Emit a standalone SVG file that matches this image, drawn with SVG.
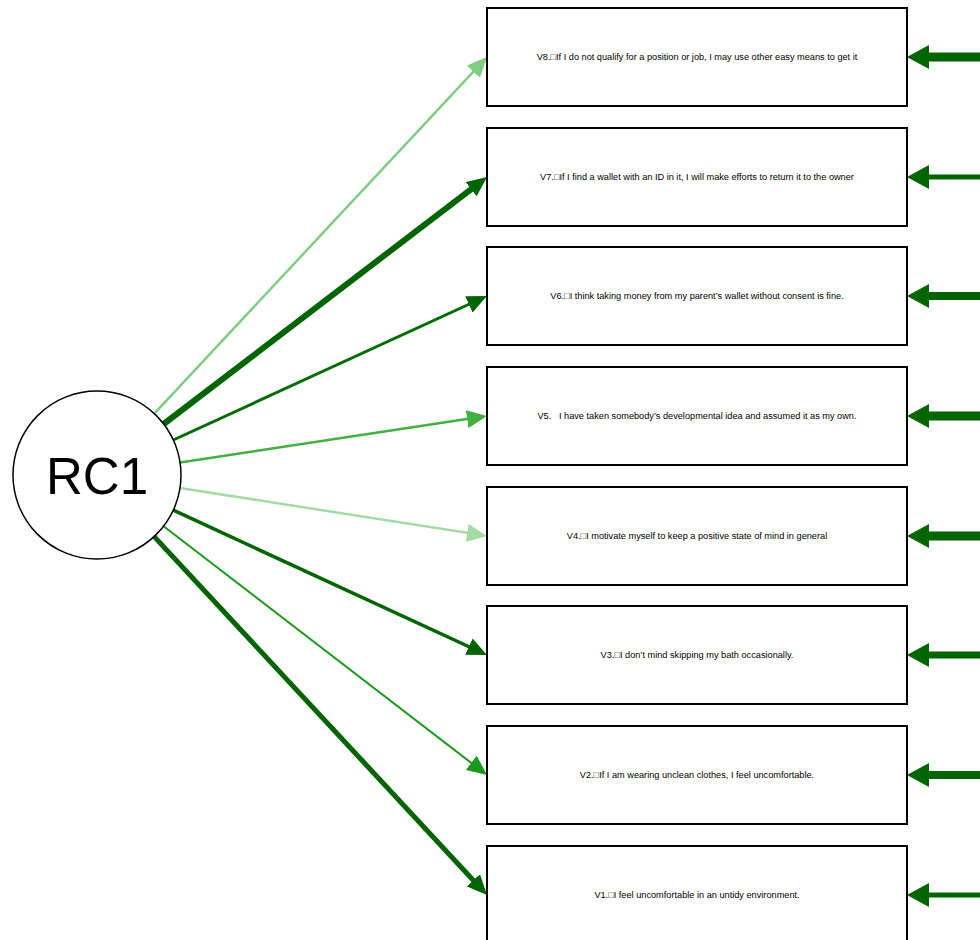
<svg xmlns="http://www.w3.org/2000/svg" width="980" height="940" viewBox="0 0 980 940">
<style>
.box{fill:#fff;stroke:#000;stroke-width:2}
.lbl{font-family:"Liberation Sans",Arial,sans-serif;font-size:9.2px;fill:#000;text-anchor:middle}
.lat{fill:#fff;stroke:#000;stroke-width:1.5}
.latlbl{font-family:"Liberation Sans",Arial,sans-serif;font-size:51px;fill:#000;text-anchor:middle}
.res{stroke:#006400;fill:none}
</style>
<defs>
<marker id="aDark" markerUnits="userSpaceOnUse" markerWidth="20" markerHeight="18" refX="8" refY="9" orient="auto"><path d="M0,0 L20,9 L0,18 z" fill="#006400"/></marker>
<marker id="aLight" markerUnits="userSpaceOnUse" markerWidth="20" markerHeight="18" refX="8" refY="9" orient="auto"><path d="M0,0 L20,9 L0,18 z" fill="#80cc80"/></marker>
<marker id="aPale" markerUnits="userSpaceOnUse" markerWidth="20" markerHeight="18" refX="8" refY="9" orient="auto"><path d="M0,0 L20,9 L0,18 z" fill="#a3dba3"/></marker>
<marker id="aMid" markerUnits="userSpaceOnUse" markerWidth="20" markerHeight="18" refX="8" refY="9" orient="auto"><path d="M0,0 L20,9 L0,18 z" fill="#40b040"/></marker>
<marker id="aMid2" markerUnits="userSpaceOnUse" markerWidth="20" markerHeight="18" refX="8" refY="9" orient="auto"><path d="M0,0 L20,9 L0,18 z" fill="#1a9a1a"/></marker>
<marker id="aRes" markerUnits="userSpaceOnUse" markerWidth="22" markerHeight="24" refX="10" refY="12" orient="auto"><path d="M0,0 L22,12 L0,24 z" fill="#006400"/></marker>
</defs>

<g id="connectors">
<line x1="154.3" y1="413.6" x2="478.8" y2="65.8" stroke="#80cc80" stroke-width="2.5" marker-end="url(#aLight)"/>
<line x1="163.7" y1="424" x2="477.5" y2="184.3" stroke="#006400" stroke-width="6" marker-end="url(#aDark)"/>
<line x1="173.3" y1="440" x2="476.1" y2="301" stroke="#006b00" stroke-width="3" marker-end="url(#aDark)"/>
<line x1="180.1" y1="462.4" x2="475.1" y2="417.8" stroke="#40b040" stroke-width="2.5" marker-end="url(#aMid)"/>
<line x1="180" y1="488" x2="475.1" y2="534.1" stroke="#a3dba3" stroke-width="2.5" marker-end="url(#aPale)"/>
<line x1="173.3" y1="510.2" x2="476.1" y2="650" stroke="#006400" stroke-width="3.5" marker-end="url(#aDark)"/>
<line x1="163.6" y1="526.2" x2="477.5" y2="767.7" stroke="#1a9a1a" stroke-width="2" marker-end="url(#aMid2)"/>
<line x1="154.2" y1="536.6" x2="478.8" y2="886.2" stroke="#006400" stroke-width="5" marker-end="url(#aDark)"/>

<line class="res" x1="980" y1="57" x2="919" y2="57" stroke-width="9" marker-end="url(#aRes)"/>
<line class="res" x1="980" y1="177" x2="919" y2="177" stroke-width="5" marker-end="url(#aRes)"/>
<line class="res" x1="980" y1="296" x2="919" y2="296" stroke-width="8" marker-end="url(#aRes)"/>
<line class="res" x1="980" y1="416" x2="919" y2="416" stroke-width="9" marker-end="url(#aRes)"/>
<line class="res" x1="980" y1="536" x2="919" y2="536" stroke-width="9" marker-end="url(#aRes)"/>
<line class="res" x1="980" y1="655" x2="919" y2="655" stroke-width="7" marker-end="url(#aRes)"/>
<line class="res" x1="980" y1="775" x2="919" y2="775" stroke-width="8" marker-end="url(#aRes)"/>
<line class="res" x1="980" y1="895" x2="919" y2="895" stroke-width="5" marker-end="url(#aRes)"/>
</g>

<g id="RC1">
<circle class="lat" cx="97" cy="475" r="84"/>
<text class="latlbl" x="97" y="494">RC1</text>
</g>

<g id="V8"><rect class="box" x="487" y="8" width="420" height="98"/><text class="lbl" x="697" y="60">V8.□If I do not qualify for a position or job, I may use other easy means to get it</text></g>
<g id="V7"><rect class="box" x="487" y="128" width="420" height="98"/><text class="lbl" x="697" y="180">V7.□If I find a wallet with an ID in it, I will make efforts to return it to the owner</text></g>
<g id="V6"><rect class="box" x="487" y="247" width="420" height="98"/><text class="lbl" x="697" y="299">V6.□I think taking money from my parent’s wallet without consent is fine.</text></g>
<g id="V5"><rect class="box" x="487" y="367" width="420" height="98"/><text class="lbl" x="697" y="419" xml:space="preserve">V5.   I have taken somebody’s developmental idea and assumed it as my own.</text></g>
<g id="V4"><rect class="box" x="487" y="487" width="420" height="98"/><text class="lbl" x="697" y="539">V4.□I motivate myself to keep a positive state of mind in general</text></g>
<g id="V3"><rect class="box" x="487" y="606" width="420" height="98"/><text class="lbl" x="697" y="658">V3.□I don’t mind skipping my bath occasionally.</text></g>
<g id="V2"><rect class="box" x="487" y="726" width="420" height="98"/><text class="lbl" x="697" y="778">V2.□If I am wearing unclean clothes, I feel uncomfortable.</text></g>
<g id="V1"><rect class="box" x="487" y="846" width="420" height="98"/><text class="lbl" x="697" y="898">V1.□I feel uncomfortable in an untidy environment.</text></g>
</svg>
